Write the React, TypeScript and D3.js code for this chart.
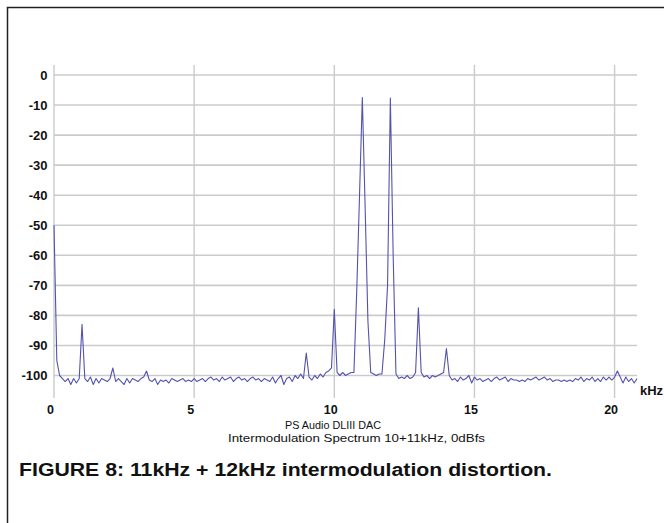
import React from "react";
import * as d3 from "d3";

const FREQ_STEP_KHZ = 0.1;
const spectrumDb: number[] = [
  -50, -95, -100, -101, -102, -101, -103, -101, -102.5, -101,
  -83, -101, -102, -100.5, -103, -101, -102.5, -101, -101.5, -102,
  -101, -97.5, -102, -101, -102, -103, -101, -102.5, -101, -101.5,
  -102, -101, -100.5, -98.5, -101.5, -102, -101, -103, -101.5, -102,
  -101.5, -102.5, -101, -101.5, -102, -101.5, -101, -102, -101.5, -102,
  -101, -102, -101.5, -101, -102, -101, -100.5, -101.5, -101, -102,
  -100.5, -101.5, -101, -100.5, -102, -101, -100.5, -101.5, -101, -102,
  -101, -100.5, -101.5, -101, -102, -101, -101.5, -102, -100.5, -102.5,
  -101, -100, -103, -101, -100.5, -102, -100, -101, -99.5, -101,
  -92.5, -100.5, -101.5, -100, -101, -99.5, -100.5, -99, -98.5, -97.5,
  -78, -99, -100, -99, -100, -99.5, -99, -99, -72, -40,
  -7.5, -44, -82, -99, -99.5, -100, -99.5, -99.5, -88, -70,
  -7.7, -60, -99.5, -101, -100.5, -101, -100, -101, -100.5, -99,
  -77.5, -99, -100.5, -100, -101, -100, -100.5, -100, -99.5, -99,
  -91, -100, -101.5, -101, -102, -100.5, -101.5, -101, -100, -102.5,
  -100.5, -101.5, -101, -102, -101.5, -101, -102, -101, -100.5, -101.5,
  -101, -100.5, -102, -101, -101.5, -101.5, -102, -101.5, -102, -101,
  -101.5, -101, -100.5, -101.5, -101, -100.5, -101.5, -101, -102, -101.5,
  -101.5, -102, -101.5, -102, -101.5, -102, -101, -101.5, -100.5, -102,
  -101, -101.5, -100.5, -102, -101, -102, -100.5, -101.5, -100.5, -101.5,
  -100.5, -98.5, -100.5, -102.5, -100.5, -102, -101, -102.5, -101,
];

const yTicks: number[] = [0, -10, -20, -30, -40, -50, -60, -70, -80, -90, -100];
const xTicks: number[] = [0, 5, 10, 15, 20];
const xUnit = "kHz";
const subtitle1 = "PS Audio DLIII DAC";
const subtitle2 = "Intermodulation Spectrum 10+11kHz, 0dBfs";
const caption = "FIGURE 8: 11kHz + 12kHz intermodulation distortion.";

export default function App() {
  const x = d3.scaleLinear().domain([0, 20]).range([54, 614.6]);
  const y = d3.scaleLinear().domain([0, -100]).range([75, 375.5]);
  const xMax = (spectrumDb.length - 1) * FREQ_STEP_KHZ;

  const line = d3
    .line<number>()
    .x((_, i) => x(i * FREQ_STEP_KHZ))
    .y((d) => y(d));

  const font = "'Liberation Sans', Arial, Helvetica, sans-serif";
  const gridColor = "#cbcbcb";

  return (
    <svg
      width={664}
      height={523}
      style={{ position: "absolute", left: 0, top: 0, background: "#fff" }}
      fontFamily={font}
    >
      <rect x={0} y={0} width={664} height={523} fill="#fff" />
      <rect x={7.5} y={7.5} width={700} height={560} fill="none" stroke="#222" strokeWidth={1.5} />

      {yTicks.map((t) => (
        <line
          key={"h" + t}
          x1={x(0)}
          x2={x(xMax)}
          y1={y(t)}
          y2={y(t)}
          stroke={gridColor}
          strokeWidth={1.6}
        />
      ))}
      {xTicks.map((t) => (
        <line
          key={"v" + t}
          x1={x(t)}
          x2={x(t)}
          y1={65}
          y2={398}
          stroke={gridColor}
          strokeWidth={1.4}
        />
      ))}

      {yTicks.map((t) => (
        <text
          key={"yl" + t}
          x={47.5}
          y={y(t) + 4.6}
          textAnchor="end"
          fontSize={13}
          fontWeight="bold"
          fill="#111"
        >
          {t}
        </text>
      ))}
      {xTicks.map((t) => (
        <text
          key={"xl" + t}
          x={x(t) - 3.5}
          y={414}
          textAnchor="middle"
          fontSize={12.5}
          fontWeight="bold"
          fill="#111"
        >
          {t}
        </text>
      ))}
      <text x={640} y={395} fontSize={13} fontWeight="bold" fill="#111">
        {xUnit}
      </text>

      <path d={line(spectrumDb) || ""} fill="none" stroke="#5252b0" strokeWidth={1.1} strokeLinejoin="round" />

      <text x={333} y={428.5} textAnchor="middle" fontSize={11.5} fill="#111" textLength={96} lengthAdjust="spacingAndGlyphs">
        {subtitle1}
      </text>
      <text x={356.5} y={442} textAnchor="middle" fontSize={11.5} fill="#111" textLength={257} lengthAdjust="spacingAndGlyphs">
        {subtitle2}
      </text>

      <text x={19} y={476} fontSize={18} fontWeight="bold" fill="#111" textLength={533} lengthAdjust="spacingAndGlyphs">
        {caption}
      </text>
    </svg>
  );
}
